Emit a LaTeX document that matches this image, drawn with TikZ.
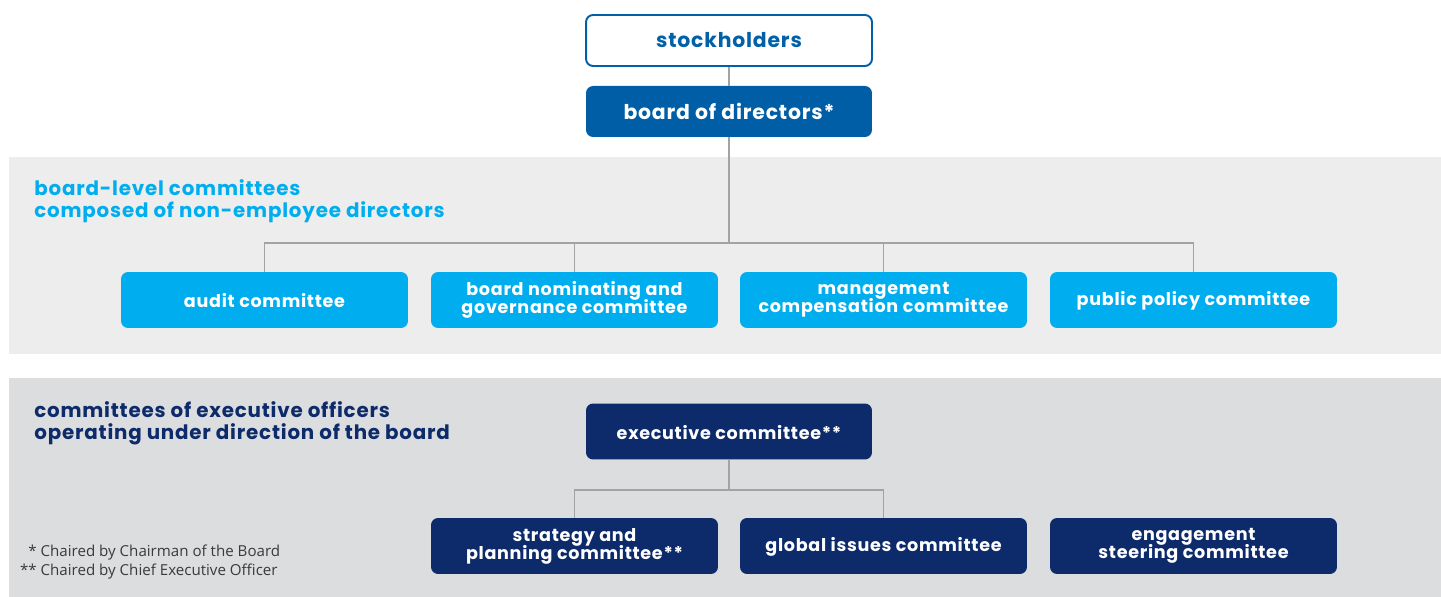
\documentclass[tikz,border=0pt]{standalone}
\usepackage{fontspec}
\setmainfont{Poppins}[LetterSpace=4]
\newfontfamily\notefont{Open Sans}
\usetikzlibrary{positioning}
\newcommand\tightlines{\lineskiplimit=-20pt\relax}
\definecolor{stockblue}{HTML}{0060A8}
\definecolor{boardblue}{HTML}{005EA6}
\definecolor{skyblue}{HTML}{00AEEF}
\definecolor{navyblue}{HTML}{0D2A6A}
\definecolor{bandlight}{HTML}{EDEDED}
\definecolor{banddark}{HTML}{DCDDDF}
\definecolor{linegrey}{HTML}{A3A3A3}
\definecolor{notegrey}{HTML}{3A3A3A}
\tikzset{
  topbox/.style={rounded corners=4pt, minimum width=5.72cm, minimum height=1.02cm,
    inner sep=0pt, font=\bfseries\fontsize{11.6pt}{13pt}\selectfont},
  combox/.style={rounded corners=4pt, minimum width=5.74cm, minimum height=1.12cm,
    inner sep=0pt, align=center, text=white,
    font={\bfseries\fontsize{10pt}{10.2pt}\selectfont\tightlines},
    execute at begin node={\rule{0pt}{9pt}}},
  twoline/.style={execute at begin node={\rule{0pt}{11.6pt}}},
  boardcom/.style={combox, fill=skyblue},
  execcom/.style={combox, fill=navyblue},
  heading/.style={anchor=north west, inner sep=0pt, align=left,
    font={\bfseries\fontsize{11.3pt}{12.5pt}\selectfont\tightlines}},
  link/.style={draw=linegrey, line width=0.85pt}
}
\begin{document}
\begin{tikzpicture}[x=0.02cm, y=-0.02cm]
  \useasboundingbox (0,0) rectangle (1441,597);
  % background bands
  \fill[bandlight] (9,157) rectangle (1441,354);
  \fill[banddark] (9,378) rectangle (1441,597);

  % top of the chart
  \node[topbox, draw=stockblue, line width=1.1pt, fill=white, text=stockblue] (stock) at (729,40.5) {stockholders};
  \node[topbox, fill=boardblue, text=white] (board) at (729,111.5) {board of directors*};

  % board-level committees
  \node[heading, text=skyblue] (boardhead) at (34,179) {board-level committees\\composed of non-employee directors};
  \node[boardcom] (audit) at (264.5,300) {audit committee};
  \node[boardcom, twoline] (nominating) at (574.5,300) {board nominating and\\governance committee};
  \node[boardcom, twoline] (compensation) at (883.5,300) {management\\compensation committee};
  \node[boardcom] (policy) at (1193.5,300) {public policy committee};
  \coordinate (split) at (729,243);

  % committees of executive officers
  \node[heading, text=navyblue] (exechead) at (34,401) {committees of executive officers\\operating under direction of the board};
  \node[execcom, minimum width=5.72cm] (executive) at (729,431.5) {executive committee**};
  \node[execcom, twoline] (strategy) at (574.5,546) {strategy and\\planning committee**};
  \node[execcom] (global) at (883.5,546) {global issues committee};
  \node[execcom, twoline] (engagement) at (1193.5,546) {engagement\\steering committee};
  \coordinate (execsplit) at (729,490);

  % footnotes
  \node[anchor=north west, inner sep=0pt, align=left, text=notegrey,
    font=\notefont\fontsize{8.6pt}{10.8pt}\selectfont] (notes) at (22,545)
    {\makebox[0.95em][r]{*} Chaired by Chairman of the Board\\\makebox[0.95em][r]{**} Chaired by Chief Executive Officer};

  % connectors
  \draw[link] (stock) -- (board);
  \draw[link] (board) -- (split);
  \foreach \com in {audit, nominating, compensation, policy}
    \draw[link] (\com.north) |- (split);
  \draw[link] (executive) -- (execsplit);
  \foreach \com in {strategy, global}
    \draw[link] (\com.north) |- (execsplit);
\end{tikzpicture}
\end{document}
